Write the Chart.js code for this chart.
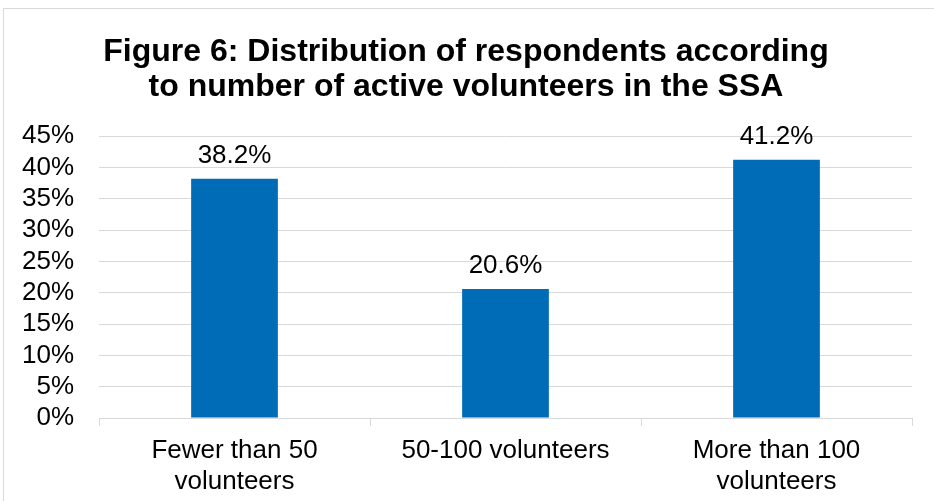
<!DOCTYPE html>
<html>
<head>
<meta charset="utf-8">
<script src="https://cdn.jsdelivr.net/npm/chart.js@4.4.1/dist/chart.umd.min.js"></script>
<style>
    html, body { margin: 0; padding: 0; background: #fff; overflow: hidden; }
    #frame {
        position: absolute; left: 3px; top: 8px;
        width: 1000px; height: 600px;
        border: 1px solid #d9d9d9;
    }
    #wrap { position: absolute; left: 0; top: 0; width: 934px; height: 501px; }
</style>
</head>
<body>
<div id="frame"></div>
<div id="wrap"><canvas id="volChart"></canvas></div>
<script>
// Survey data
const categories = [['Fewer than 50', 'volunteers'], '50-100 volunteers', ['More than 100', 'volunteers']];
const shares = [38.2, 20.6, 41.2];
const yTicks = [0, 5, 10, 15, 20, 25, 30, 35, 40, 45];

const barColor = '#006BB6';
const gridColor = '#d9d9d9';
const fontFamily = '"Liberation Sans", Arial, sans-serif';

// Value labels above each bar
const valueLabels = {
    id: 'valueLabels',
    afterDatasetsDraw(chart) {
        const ctx = chart.ctx;
        const meta = chart.getDatasetMeta(0);
        ctx.save();
        ctx.font = '26px ' + fontFamily;
        ctx.fillStyle = '#000';
        ctx.textAlign = 'center';
        ctx.textBaseline = 'middle';
        meta.data.forEach((bar, i) => {
            ctx.fillText(shares[i].toFixed(1) + '%', bar.x, bar.y - 23);
        });
        ctx.restore();
    }
};

const ctx = document.getElementById('volChart');
new Chart(ctx, {
    type: 'bar',
    data: {
        labels: categories,
        datasets: [{
            data: shares,
            backgroundColor: barColor,
            borderWidth: 0,
            categoryPercentage: 1,
            barPercentage: 0.32
        }]
    },
    options: {
        responsive: true,
        maintainAspectRatio: false,
        animation: false,
        layout: { padding: { left: 20, right: 22, top: 0, bottom: 0 } },
        plugins: {
            legend: { display: false },
            tooltip: { enabled: false },
            title: {
                display: true,
                text: ['Figure 6: Distribution of respondents according', 'to number of active volunteers in the SSA'],
                color: '#000',
                font: { family: fontFamily, size: 32, weight: 'bold', lineHeight: 1.094 },
                padding: { top: 35, bottom: 31 }
            }
        },
        scales: {
            x: {
                grid: {
                    display: true,
                    drawOnChartArea: false,
                    drawTicks: true,
                    tickLength: 8,
                    color: gridColor,
                    offset: true
                },
                border: { display: true, color: gridColor, width: 1 },
                ticks: {
                    color: '#000',
                    padding: 9,
                    maxRotation: 0,
                    autoSkip: false,
                    font: { family: fontFamily, size: 26, lineHeight: 1.2 }
                },
                afterFit(scale) { scale.height = 83; }
            },
            y: {
                min: 0,
                max: 45,
                afterBuildTicks(scale) {
                    scale.ticks = yTicks.map(v => ({ value: v }));
                },
                grid: { color: gridColor, drawTicks: false },
                border: { display: false },
                ticks: {
                    color: '#000',
                    padding: 25,
                    autoSkip: false,
                    font: { family: fontFamily, size: 26 },
                    callback: v => v + '%'
                },
                afterFit(scale) { scale.width = 79; }
            }
        }
    },
    plugins: [valueLabels]
});
</script>
</body>
</html>
